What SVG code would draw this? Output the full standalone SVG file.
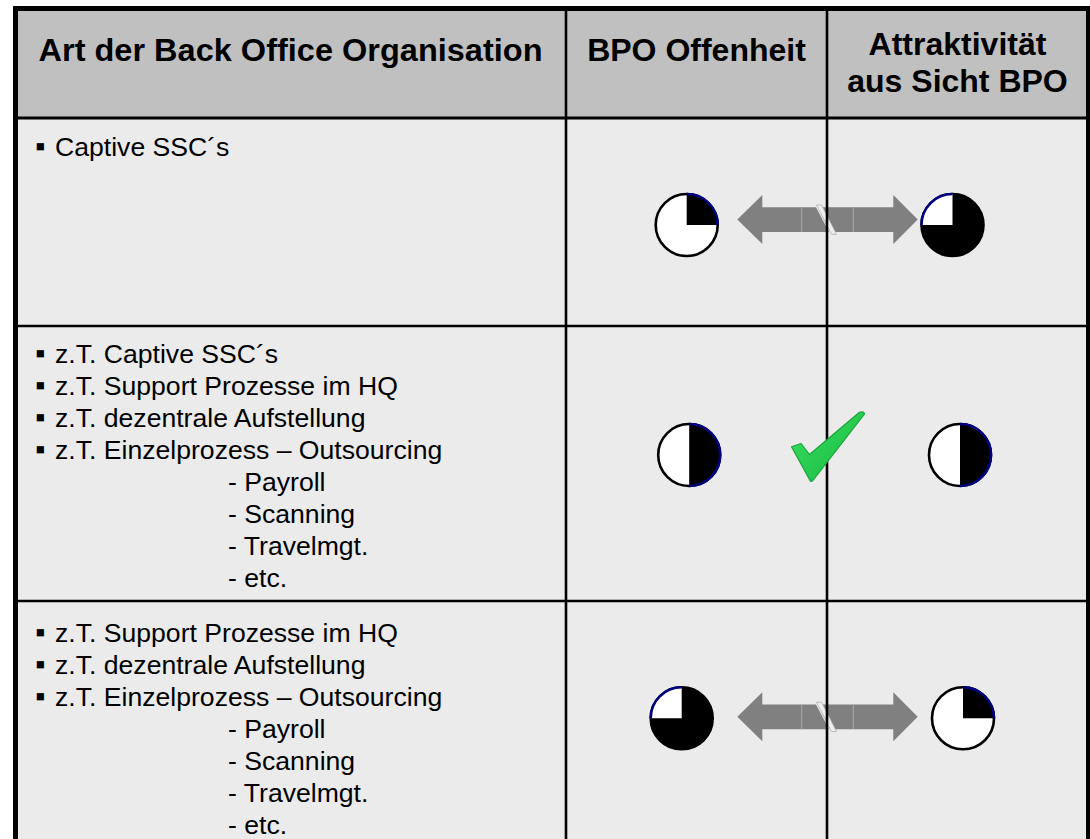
<svg xmlns="http://www.w3.org/2000/svg" width="1090" height="839" viewBox="0 0 1090 839">
  <defs>
    <style>
      .hdr { font-family: "Liberation Sans", Arial, sans-serif; font-weight: bold; font-size: 32px; fill: #000; text-anchor: middle; }
      .txt { font-family: "Liberation Sans", Arial, sans-serif; font-size: 26.6px; fill: #000; }
      .bul { font-size: 29px; }
      .grid { stroke: #000; fill: none; }
      .ball-edge { fill: #fff; stroke: #000; stroke-width: 2.6; }
      .ball-dark { fill: #000; stroke: #000; stroke-width: 2.6; }
      .navy { fill: none; stroke: #000080; stroke-width: 2.6; }
      .arrow { fill: #808080; }
      .seam { stroke: #a8a8a8; stroke-width: 1; }
    </style>
    <linearGradient id="checkFill" x1="0" y1="0" x2="1" y2="1">
      <stop offset="0" stop-color="#3ee064"/>
      <stop offset="1" stop-color="#14b83c"/>
    </linearGradient>
    <!-- double-headed arrow with a break mark, centred on y = 0 -->
    <g id="breakArrow">
      <polygon class="arrow" points="737.3,0 762.3,-24.5 762.3,-12.2 816,-12.2 829,12.5 762.3,12.5 762.3,24.5"/>
      <polygon class="arrow" points="822,-12.2 893.3,-12.2 893.3,-24.5 917.7,0 893.3,24.5 893.3,12.5 835,12.5"/>
      <line class="seam" x1="801.7" y1="-12.2" x2="801.7" y2="12.5"/>
      <line class="seam" x1="853.3" y1="-12.2" x2="853.3" y2="12.5"/>
      <polygon points="816.5,-14.5 821.5,-14.5 836.5,14.8 831.5,14.8" fill="#eeeeee" stroke="#b0b0b0" stroke-width="0.8"/>
    </g>
  </defs>

  <!-- cell backgrounds -->
  <g id="backgrounds">
    <rect x="15.5" y="8.5" width="1073" height="109.5" fill="#c0c0c0"/>
    <rect x="15.5" y="118" width="1073" height="740" fill="#ebebeb"/>
  </g>

  <!-- header row -->
  <g id="header">
    <text class="hdr" x="290.5" y="61" textLength="504" lengthAdjust="spacingAndGlyphs">Art der Back Office Organisation</text>
    <text class="hdr" x="696.5" y="61">BPO Offenheit</text>
    <text class="hdr" x="957.5" y="54.5">Attraktivität</text>
    <text class="hdr" x="957.5" y="91.5">aus Sicht BPO</text>
  </g>

  <!-- row 1 -->
  <g id="row1-text" class="txt">
    <text class="bul" x="35" y="156">▪</text>
    <text x="55" y="156">Captive SSC´s</text>
  </g>

  <!-- row 2 -->
  <g id="row2-text" class="txt">
    <text class="bul" x="35" y="363">▪</text><text x="55" y="363">z.T. Captive SSC´s</text>
    <text class="bul" x="35" y="395">▪</text><text x="55" y="395">z.T. Support Prozesse im HQ</text>
    <text class="bul" x="35" y="427">▪</text><text x="55" y="427">z.T. dezentrale Aufstellung</text>
    <text class="bul" x="35" y="459">▪</text><text x="55" y="459">z.T. Einzelprozess – Outsourcing</text>
    <text x="228" y="491">- Payroll</text>
    <text x="228" y="523">- Scanning</text>
    <text x="228" y="555">- Travelmgt.</text>
    <text x="228" y="587">- etc.</text>
  </g>

  <!-- row 3 -->
  <g id="row3-text" class="txt">
    <text class="bul" x="35" y="642">▪</text><text x="55" y="642">z.T. Support Prozesse im HQ</text>
    <text class="bul" x="35" y="674">▪</text><text x="55" y="674">z.T. dezentrale Aufstellung</text>
    <text class="bul" x="35" y="706">▪</text><text x="55" y="706">z.T. Einzelprozess – Outsourcing</text>
    <text x="228" y="738">- Payroll</text>
    <text x="228" y="770">- Scanning</text>
    <text x="228" y="802">- Travelmgt.</text>
    <text x="228" y="834">- etc.</text>
  </g>

  <!-- connectors: break arrows between the two rating columns -->
  <g id="connectors">
    <use href="#breakArrow" transform="translate(0,219.5)"/>
    <use href="#breakArrow" transform="translate(0,716.7)"/>
  </g>

  <!-- table grid -->
  <g id="grid" class="grid">
    <line x1="15.5" y1="118" x2="1088.5" y2="118" stroke-width="3"/>
    <line x1="15.5" y1="326" x2="1088.5" y2="326" stroke-width="2.4"/>
    <line x1="15.5" y1="601" x2="1088.5" y2="601" stroke-width="2.4"/>
    <line x1="566" y1="8.5" x2="566" y2="860" stroke-width="2.6"/>
    <line x1="827" y1="8.5" x2="827" y2="860" stroke-width="2.6"/>
    <rect x="15.5" y="8.5" width="1073" height="860" stroke-width="5"/>
  </g>

  <!-- Harvey balls, row 1 -->
  <g id="ball-r1-open">
    <circle class="ball-edge" cx="686.7" cy="225" r="31"/>
    <path d="M686.7,225 L686.7,194 A31,31 0 0 1 717.7,225 Z" fill="#000"/>
    <path class="navy" d="M686.7,194 A31,31 0 0 1 717.7,225"/>
  </g>
  <g id="ball-r1-attr">
    <circle class="ball-dark" cx="952.5" cy="225" r="31"/>
    <path d="M952.5,225 L921.5,225 A31,31 0 0 1 952.5,194 Z" fill="#fff"/>
    <path class="navy" d="M921.5,225 A31,31 0 0 1 952.5,194"/>
  </g>

  <!-- Harvey balls, row 2 -->
  <g id="ball-r2-open">
    <circle class="ball-edge" cx="689.2" cy="455" r="31"/>
    <path d="M689.2,455 L689.2,424 A31,31 0 0 1 689.2,486 Z" fill="#000"/>
    <path class="navy" d="M689.2,424 A31,31 0 0 1 689.2,486"/>
  </g>
  <g id="ball-r2-attr">
    <circle class="ball-edge" cx="960" cy="455" r="31"/>
    <path d="M960,455 L960,424 A31,31 0 0 1 960,486 Z" fill="#000"/>
    <path class="navy" d="M960,424 A31,31 0 0 1 960,486"/>
  </g>

  <!-- tick between the row 2 ratings -->
  <g id="check">
    <path d="M791.5,446.8 L801,443.5 L809.5,454.5 L859.5,412.3 Q863.5,411 864.6,413.8 L812.5,481 Q810.5,482 809.5,479.5 Z" fill="url(#checkFill)" stroke="#17a53a" stroke-width="1.2" stroke-linejoin="round"/>
  </g>

  <!-- Harvey balls, row 3 -->
  <g id="ball-r3-open">
    <circle class="ball-dark" cx="681.7" cy="718.3" r="31"/>
    <path d="M681.7,718.3 L650.7,718.3 A31,31 0 0 1 681.7,687.3 Z" fill="#fff"/>
    <path class="navy" d="M650.7,718.3 A31,31 0 0 1 681.7,687.3"/>
  </g>
  <g id="ball-r3-attr">
    <circle class="ball-edge" cx="963" cy="718.3" r="31"/>
    <path d="M963,718.3 L963,687.3 A31,31 0 0 1 994,718.3 Z" fill="#000"/>
    <path class="navy" d="M963,687.3 A31,31 0 0 1 994,718.3"/>
  </g>
</svg>
